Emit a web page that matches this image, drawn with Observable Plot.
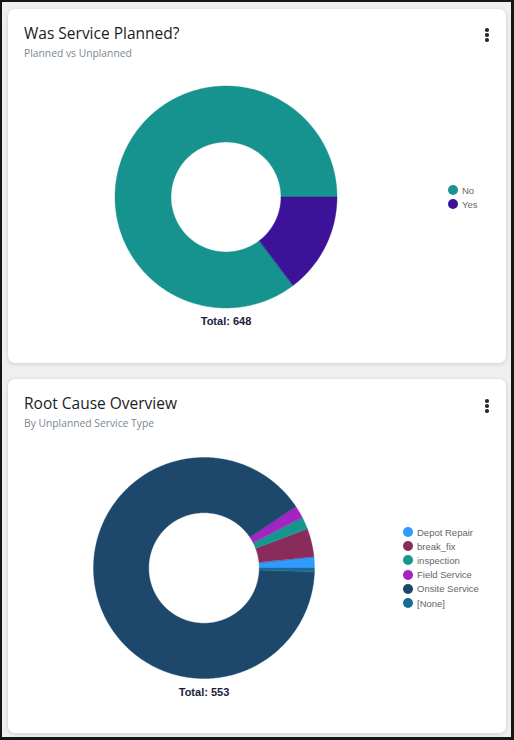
<!DOCTYPE html>
<html>
<head>
<meta charset="utf-8">
<script src="https://cdn.jsdelivr.net/npm/d3@7"></script>
<script src="https://cdn.jsdelivr.net/npm/@observablehq/plot@0.6"></script>
<style>
  html, body { margin: 0; padding: 0; }
  body { width: 514px; height: 740px; position: relative; background: #efefef; overflow: hidden; }
  .frame { position: absolute; left: 0; top: 0; width: 514px; height: 740px; box-sizing: border-box;
           border: 2px solid #161616; border-right-width: 3px; border-bottom-width: 3px; pointer-events: none; }
  .card { position: absolute; left: 8px; width: 498px; background: #fff; border-radius: 7px;
          box-shadow: 0 1px 4px rgba(0,0,0,0.14); }
  .title { position: absolute; left: 16px; font-family: "Open Sans", sans-serif; font-size: 15.5px;
           color: #1a1d21; white-space: nowrap; line-height: 1; }
  .subtitle { position: absolute; left: 16px; font-family: "Open Sans", sans-serif; font-size: 10.3px;
              color: #7b8794; white-space: nowrap; line-height: 1; }
  .kebab { position: absolute; width: 4px; }
  .kebab i { display: block; width: 3.6px; height: 3.6px; border-radius: 50%; background: #26292d; margin-bottom: 1.4px; }
  .chart { position: absolute; }
  .legend { position: absolute; font-family: "Liberation Sans", Arial, sans-serif; font-size: 9.5px; color: #666; }
  .legend div { display: flex; align-items: center; height: 14.2px; white-space: nowrap; }
  .legend span.dot { display: inline-block; width: 10px; height: 10px; border-radius: 50%; margin-right: 4px; }
  .total { position: absolute; font-family: "Liberation Sans", Arial, sans-serif; font-weight: bold; font-size: 11px;
           color: #1b1c3d; transform: translateX(-50%); white-space: nowrap; line-height: 1; }
</style>
</head>
<body>
<div class="card" id="card1" style="top:9px;height:354px;"></div>
<div class="card" id="card2" style="top:379px;height:354px;"></div>
<div class="frame"></div>
<script>
// Was Service Planned?
const plannedLabels = ["No", "Yes"];
const plannedValues = [553, 95];
const plannedColors = ["#16938e", "#3b1298"];

// Root cause by unplanned service type
const causeLabels = ["Depot Repair", "break_fix", "inspection", "Field Service", "Onsite Service", "[None]"];
const causeValues = [9, 23, 10, 10, 498, 3];
const causeColors = ["#2f9bff", "#8a2c5b", "#17968f", "#a324c3", "#1d486c", "#1a6b93"];

// Build a donut: each slice is an area between its outer and inner arc,
// running counter-clockwise from three o'clock in legend order.
function donut(labels, values, colors, {size, margin, inner}) {
  const total = d3.sum(values);
  const ends = Array.from(d3.cumsum(values));
  const rows = [];
  labels.forEach((key, i) => {
    const a0 = 2 * Math.PI * (ends[i] - values[i]) / total;
    const a1 = 2 * Math.PI * ends[i] / total;
    const n = Math.max(2, Math.ceil((a1 - a0) / (Math.PI / 360)) + 1);
    for (let j = 0; j < n; ++j) {
      const a = a0 + (a1 - a0) * j / (n - 1);
      rows.push({key, x1: Math.cos(a), y1: Math.sin(a), x2: inner * Math.cos(a), y2: inner * Math.sin(a)});
    }
  });
  return Plot.plot({
    width: size,
    height: size,
    margin,
    style: {background: "transparent"},
    x: {domain: [-1, 1], axis: null},
    y: {domain: [-1, 1], axis: null},
    color: {domain: labels, range: colors},
    marks: [
      Plot.area(rows, {x1: "x1", y1: "y1", x2: "x2", y2: "y2", fill: "key", stroke: "key", strokeWidth: 0.4})
    ]
  });
}

function legend(labels, colors) {
  const box = document.createElement("div");
  box.className = "legend";
  labels.forEach((label, i) => {
    const row = document.createElement("div");
    const dot = document.createElement("span");
    dot.className = "dot";
    dot.style.background = colors[i];
    row.appendChild(dot);
    row.appendChild(document.createTextNode(label));
    box.appendChild(row);
  });
  return box;
}

function header(card, title, subtitle, titleTop, subTop, kebabTop) {
  const t = document.createElement("div");
  t.className = "title"; t.textContent = title; t.style.top = titleTop + "px";
  const s = document.createElement("div");
  s.className = "subtitle"; s.textContent = subtitle; s.style.top = subTop + "px";
  const k = document.createElement("div");
  k.className = "kebab"; k.style.left = "477px"; k.style.top = kebabTop + "px";
  k.innerHTML = "<i></i><i></i><i></i>";
  card.append(t, s, k);
}

function place(el, left, top) {
  el.style.position = "absolute";
  el.style.left = left + "px";
  el.style.top = top + "px";
  return el;
}

const card1 = document.getElementById("card1");
const card2 = document.getElementById("card2");

header(card1, "Was Service Planned?", "Planned vs Unplanned", 16.5, 39, 19);
header(card2, "Root Cause Overview", "By Unplanned Service Type", 16.5, 39, 20);

// Card 1
const c1 = donut(plannedLabels, plannedValues, plannedColors, {size: 240, margin: 9, inner: 0.495});
c1.classList.add("chart");
card1.appendChild(place(c1, 226 - 120 - 8, 197 - 120 - 9));
const l1 = legend(plannedLabels, plannedColors);
card1.appendChild(place(l1, 448 - 8, 183 - 9));
const t1 = document.createElement("div");
t1.className = "total";
t1.textContent = "Total: " + d3.sum(plannedValues);
card1.appendChild(place(t1, 226 - 8, 316 - 9));

// Card 2
const c2 = donut(causeLabels, causeValues, causeColors, {size: 240, margin: 9.5, inner: 0.5});
c2.classList.add("chart");
card2.appendChild(place(c2, 203.5 - 120 - 8, 567.5 - 120 - 379));
const l2 = legend(causeLabels, causeColors);
card2.appendChild(place(l2, 403 - 8, 525 - 379));
const t2 = document.createElement("div");
t2.className = "total";
t2.textContent = "Total: " + d3.sum(causeValues);
card2.appendChild(place(t2, 204 - 8, 687 - 379));
</script>
</body>
</html>
